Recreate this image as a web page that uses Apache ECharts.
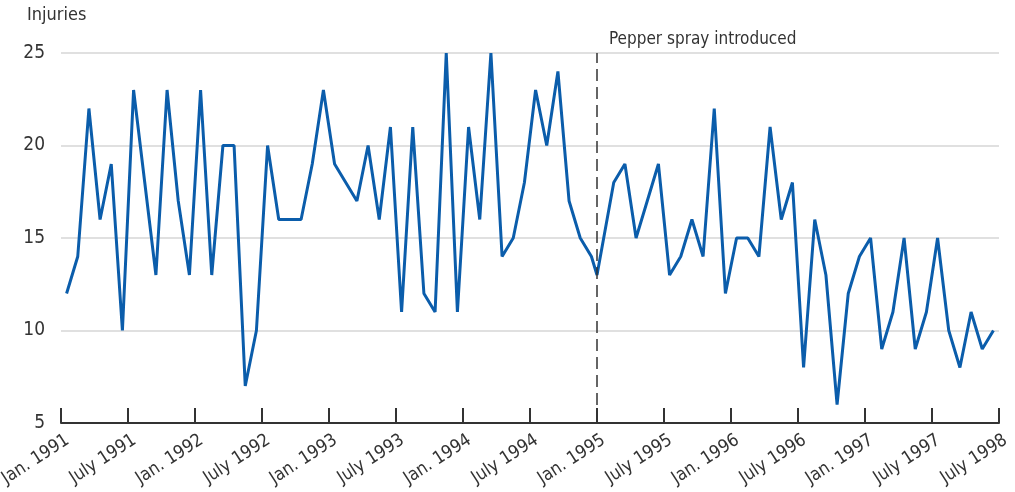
<!DOCTYPE html>
<html>
<head>
<meta charset="utf-8">
<script src="https://cdn.jsdelivr.net/npm/echarts@6/dist/echarts.min.js"></script>
<style>
  html, body { margin: 0; padding: 0; background: #fff; }
  #chart { width: 1015px; height: 492px; }
</style>
</head>
<body>
<div id="chart"></div>
<script>
// monthly injuries, Jan 1991 .. Dec 1997
var injuries = [
  12, 14, 22, 16, 19, 10, 23, 18, 13, 23, 17, 13,
  23, 13, 20, 20, 7, 10, 20, 16, 16, 16, 19, 23,
  19, 18, 17, 20, 16, 21, 11, 21, 12, 11, 25, 11,
  21, 16, 25, 14, 15, 18, 23, 20, 24, 17, 15, 14,
  13, 18, 19, 15, 17, 19, 13, 14, 16, 14, 22, 12,
  15, 15, 14, 21, 16, 18, 8, 16, 13, 6, 12, 14,
  15, 9, 11, 15, 9, 11, 15, 10, 8, 11, 9, 10
];
var tickLabels = [
  'Jan. 1991', 'July 1991', 'Jan. 1992', 'July 1992', 'Jan. 1993',
  'July 1993', 'Jan. 1994', 'July 1994', 'Jan. 1995', 'July 1995',
  'Jan. 1996', 'July 1996', 'Jan. 1997', 'July 1997', 'July 1998'
];
var yTicks = [5, 10, 15, 20, 25];
var introMonth = 48; // Jan. 1995, pepper spray introduced

var font = "'DejaVu Sans Condensed', 'Liberation Sans Narrow', 'Roboto', sans-serif";

// points sit mid-month; the Jan. 1995 point sits on the marker line
var seriesData = injuries.map(function (v, i) {
    var x = i === introMonth ? introMonth : i + 0.5;
    return [x, v];
});

var myChart = echarts.init(document.getElementById('chart'));
var options = {
    animation: false,
    title: {
        text: 'Injuries',
        left: 22,
        top: 1,
        textStyle: { fontFamily: font, fontSize: 18, fontWeight: 'normal', color: '#333' }
    },
    graphic: [{
        type: 'text',
        left: 609,
        top: 31,
        style: { text: 'Pepper spray introduced', font: '17px ' + font, fill: '#333' }
    }],
    grid: { left: 61, right: 16, top: 53, bottom: 69, containLabel: false, outerBoundsMode: 'none' },
    xAxis: {
        type: 'value',
        min: 0,
        max: 84,
        interval: 6,
        splitLine: { show: false },
        axisLine: { lineStyle: { color: '#333', width: 2 } },
        axisTick: { show: true, inside: true, length: 15, lineStyle: { color: '#333', width: 2 } },
        axisLabel: {
            rotate: 33,
            margin: 20,
            padding: [0, -8, 0, 0],
            fontFamily: font,
            fontSize: 18,
            color: '#333',
            formatter: function (v) { return tickLabels[v / 6] || ''; }
        }
    },
    yAxis: {
        type: 'value',
        min: yTicks[0],
        max: yTicks[yTicks.length - 1],
        interval: 5,
        axisLine: { show: false },
        axisTick: { show: false },
        splitLine: {
            lineStyle: { color: '#d6d6d6', width: 1.5 },
            showMinLine: false
        },
        axisLabel: { margin: 16, fontFamily: font, fontSize: 19, color: '#333' }
    },
    series: [{
        type: 'line',
        data: seriesData,
        showSymbol: false,
        lineStyle: { color: '#0b5dab', width: 3 },
        itemStyle: { color: '#0b5dab' },
        markLine: {
            silent: true,
            symbol: 'none',
            label: { show: false },
            lineStyle: { color: '#333', width: 1.5, type: [12, 6] },
            data: [{ xAxis: introMonth }]
        }
    }]
};
myChart.setOption(options);
</script>
</body>
</html>
